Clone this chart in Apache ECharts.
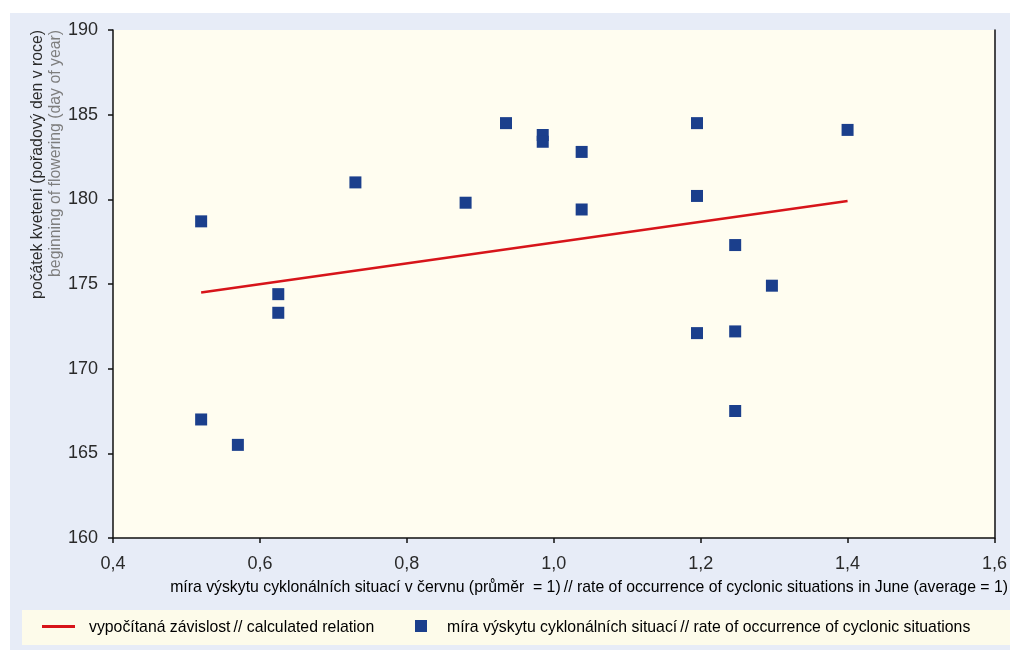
<!DOCTYPE html>
<html>
<head>
<meta charset="utf-8">
<script src="https://cdn.jsdelivr.net/npm/echarts@6/dist/echarts.min.js"></script>
<style>
html,body{margin:0;padding:0;background:#fff;}
#c{width:1010px;height:650px;}
</style>
</head>
<body>
<div id="c"></div>
<script>
// data
const xVals = [0.52, 0.52, 0.57, 0.625, 0.625, 0.73, 0.88, 0.935, 0.985, 0.985, 1.038, 1.038, 1.195, 1.195, 1.195, 1.247, 1.247, 1.247, 1.297, 1.40];
const yVals = [178.7, 167.0, 165.5, 174.4, 173.3, 181.0, 179.8, 184.5, 183.8, 183.4, 182.8, 179.4, 184.5, 180.2, 172.1, 177.3, 172.2, 167.5, 174.9, 184.1];
const lineX = [0.52, 1.40];
const lineY = [174.5, 179.9];
const xTicks = [0.4, 0.6, 0.8, 1.0, 1.2, 1.4, 1.6];
const yTicks = [160, 165, 170, 175, 180, 185, 190];
const seriesNames = ['vypočítaná závislost', 'míra výskytu cyklonálních situací'];
const seriesNamesEn = ['calculated relation', 'rate of occurrence of cyclonic situations'];
const yTitleCz = 'počátek kvetení (pořadový den v roce)';
const yTitleEn = 'beginning of flowering (day of year)';
const xTitleCz = 'míra výskytu cyklonálních situací v červnu (průměr  = 1)';
const xTitleEn = 'rate of occurrence of cyclonic situations in June (average = 1)';

const FONT = '"Liberation Sans", Arial, sans-serif';
const DARK = '#2a2a2a';
const GRAY = '#7d7d7d';
const SX = 0.93;

const scatterData = xVals.map((x, i) => [x, yVals[i]]);
const lineData = lineX.map((x, i) => [x, lineY[i]]);

const chart = echarts.init(document.getElementById('c'), null, {renderer: 'canvas'});
const rich = {
  a: {color: DARK, fontFamily: FONT, fontSize: 17},
  b: {color: GRAY, fontFamily: FONT, fontSize: 17}
};
function label(x, y, cz, en, align) {
  return {type: 'text', x: x, y: y, scaleX: SX,
    style: {text: '{a|' + cz + '} {b|// ' + en + '}', align: align, verticalAlign: 'middle', rich: rich}};
}
chart.setOption({
  animation: false,
  backgroundColor: '#ffffff',
  graphic: [
    {type: 'rect', z: -10, shape: {x: 10, y: 13, width: 1000, height: 637}, style: {fill: '#e7ecf7'}, silent: true},
    {type: 'rect', z: -9, shape: {x: 22, y: 610, width: 988, height: 35}, style: {fill: '#fdfbea'}, silent: true},
    {type: 'text', x: 37, y: 30, rotation: Math.PI / 2, scaleX: SX,
      style: {text: yTitleCz, fill: DARK, font: '17px ' + FONT, align: 'right', verticalAlign: 'middle'}},
    {type: 'text', x: 55, y: 30, rotation: Math.PI / 2, scaleX: SX,
      style: {text: yTitleEn, fill: GRAY, font: '17px ' + FONT, align: 'right', verticalAlign: 'middle'}},
    label(1008, 587, xTitleCz, xTitleEn, 'right'),
    label(89, 627, seriesNames[0], seriesNamesEn[0], 'left'),
    label(447, 627, seriesNames[1], seriesNamesEn[1], 'left')
  ],
  grid: {left: 113, right: 13, top: 30, bottom: 112, show: true, backgroundColor: '#fffdf0', borderWidth: 0},
  xAxis: {
    type: 'value', min: 0.4, max: 1.6, interval: 0.2,
    axisLine: {show: true, onZero: false, lineStyle: {color: '#111', width: 1.5}},
    axisTick: {show: true, length: 5, lineStyle: {color: '#111', width: 1.5}},
    axisLabel: {color: DARK, fontFamily: FONT, fontSize: 18, margin: 17,
      formatter: v => v.toFixed(1).replace('.', ',')},
    splitLine: {show: false}
  },
  yAxis: [{
    type: 'value', min: 160, max: 190, interval: 5,
    axisLine: {show: true, onZero: false, lineStyle: {color: '#111', width: 1.5}},
    axisTick: {show: true, length: 5, lineStyle: {color: '#111', width: 1.5}},
    axisLabel: {color: DARK, fontFamily: FONT, fontSize: 18, margin: 15},
    splitLine: {show: false}
  }, {
    type: 'value', min: 160, max: 190, interval: 5, position: 'right',
    axisLine: {show: true, onZero: false, lineStyle: {color: '#111', width: 1.5}},
    axisTick: {show: false}, axisLabel: {show: false}, splitLine: {show: false}
  }],
  legend: [{
    data: [{name: seriesNames[0], icon: 'rect'}],
    left: 37, top: 620, itemWidth: 33, itemHeight: 3,
    formatter: () => '', selectedMode: false
  }, {
    data: [{name: seriesNames[1], icon: 'rect'}],
    left: 410, top: 615, itemWidth: 12, itemHeight: 12,
    formatter: () => '', selectedMode: false
  }],
  series: [{
    name: seriesNames[0], type: 'line', data: lineData, symbol: 'none',
    lineStyle: {color: '#d7141a', width: 2.5}, itemStyle: {color: '#d7141a'}, z: 3
  }, {
    name: seriesNames[1], type: 'scatter', data: scatterData, symbol: 'rect', symbolSize: 12,
    itemStyle: {color: '#1b3f8c', opacity: 1}, z: 4
  }]
});
</script>
</body>
</html>
